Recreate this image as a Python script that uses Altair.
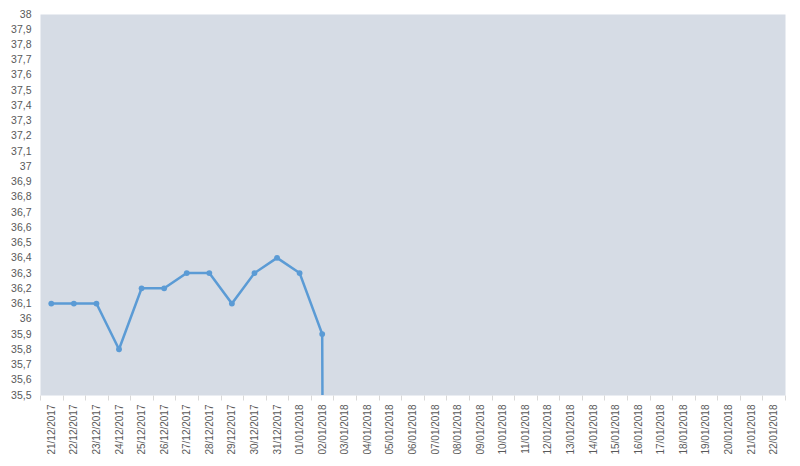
import altair as alt
import pandas as pd

dates = [
    "21/12/2017", "22/12/2017", "23/12/2017", "24/12/2017", "25/12/2017",
    "26/12/2017", "27/12/2017", "28/12/2017", "29/12/2017", "30/12/2017",
    "31/12/2017", "01/01/2018", "02/01/2018", "03/01/2018", "04/01/2018",
    "05/01/2018", "06/01/2018", "07/01/2018", "08/01/2018", "09/01/2018",
    "10/01/2018", "11/01/2018", "12/01/2018", "13/01/2018", "14/01/2018",
    "15/01/2018", "16/01/2018", "17/01/2018", "18/01/2018", "19/01/2018",
    "20/01/2018", "21/01/2018", "22/01/2018",
]
temps = [
    36.1, 36.1, 36.1, 35.8, 36.2, 36.2, 36.3, 36.3, 36.1, 36.3,
    36.4, 36.3, 35.9, 0, None, None, None, None, None, None,
    None, None, None, None, None, None, None, None, None, None,
    None, None, None,
]
y_ticks = [round(35.5 + 0.1 * i, 1) for i in range(26)]

df = pd.DataFrame({"date": dates, "temp": temps})

FONT = "Liberation Sans"
GRAY = "#595959"

x = alt.X(
    "date:O",
    sort=None,
    scale=alt.Scale(paddingInner=0, paddingOuter=0),
    axis=alt.Axis(
        title=None,
        labelAngle=-90,
        labelFont=FONT,
        labelFontSize=10,
        labelColor=GRAY,
        labelPadding=4,
        domain=False,
        ticks=True,
        tickColor="#D9D9D9",
        tickSize=5,
        tickBand="extent",
        bandPosition=0,
        grid=False,
    ),
)
y = alt.Y(
    "temp:Q",
    scale=alt.Scale(domain=[35.5, 38], zero=False, nice=False),
    axis=alt.Axis(
        title=None,
        values=y_ticks,
        labelExpr="replace(toString(round(datum.value*10)/10), '.', ',')",
        labelFont=FONT,
        labelFontSize=10.5,
        labelColor=GRAY,
        labelPadding=9,
        domain=False,
        ticks=False,
        grid=False,
    ),
)

line = alt.Chart(df).mark_line(
    color="#5B9BD5", strokeWidth=2.5, clip=True
).encode(x=x, y=y)
pts = alt.Chart(df).mark_point(
    filled=True, color="#5B9BD5", size=34, opacity=1, clip=True
).encode(x=x, y=y)

chart = (
    (line + pts)
    .properties(
        width=745,
        height=381,
        autosize=alt.AutoSizeParams(type="none"),
        padding={"left": 32, "top": 6, "right": 7, "bottom": 63},
        background="white",
    )
    .configure_view(fill="#D6DCE5", stroke="transparent")
)

chart.save("out.html", embed_options={"renderer": "svg", "actions": False})
